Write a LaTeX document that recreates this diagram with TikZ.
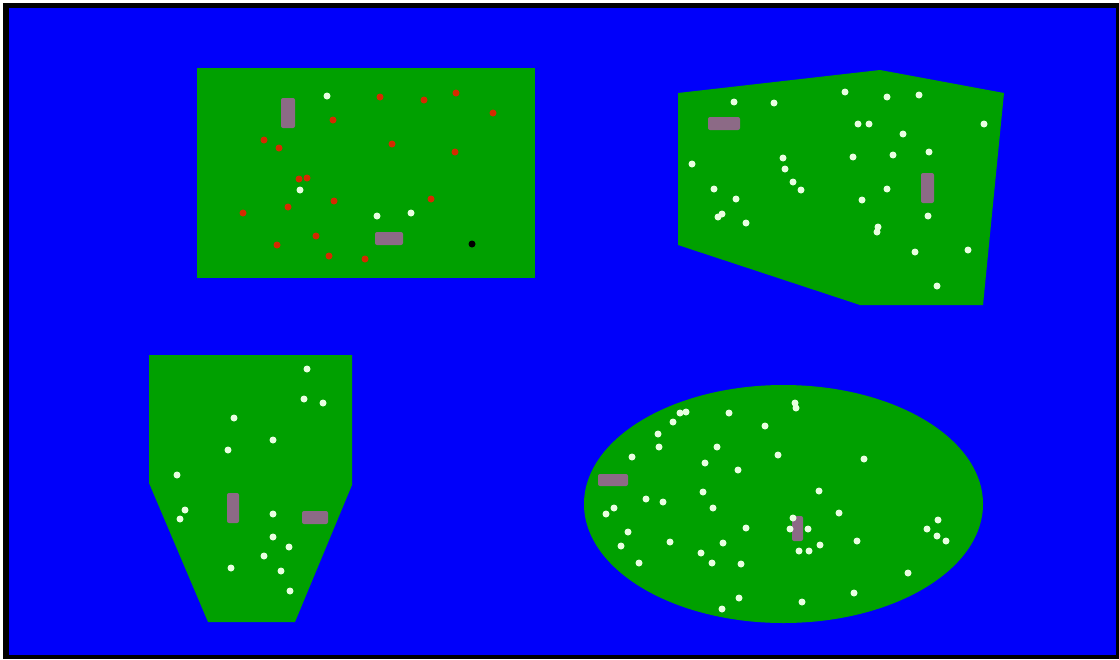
\documentclass[tikz,border=0pt]{standalone}
\usepackage{xcolor}
\usepackage{tikz}
\usetikzlibrary{
  positioning,
  calc,
  backgrounds
}
\definecolor{fieldBlue}{HTML}{0000FA}
\definecolor{fieldGreen}{HTML}{00A000}
\definecolor{padMauve}{HTML}{8C6A86}
\definecolor{dotWhite}{HTML}{E8FFE0}
\definecolor{dotRed}{HTML}{D42A00}

\tikzset{
  zone/.style={fill=fieldGreen, draw=none},
  pad/.style={fill=padMauve, rounded corners=2pt},
  wdot/.style={fill=dotWhite},
  rdot/.style={fill=dotRed},
  kdot/.style={fill=black}
}

\begin{document}
\begin{tikzpicture}[x=1pt, y=-1pt]
  \useasboundingbox (0,0) rectangle (1119,659);
  \fill[white] (0,0) rectangle (1119,659);
  \fill[black] (3,3) rectangle (1119,659);
  \fill[fieldBlue] (9,8) rectangle (1116,655);

  % rectangle field
  \fill[zone] (197,68) rectangle (535,278);
  \fill[pad] (281,98) rectangle (295,128);
  \fill[pad] (375,232) rectangle (403,245);
  \foreach \x/\y in {380/97, 424/100, 456/93, 493/113, 333/120, 264/140,
    279/148, 392/144, 455/152, 299/179, 307/178, 334/201, 288/207,
    243/213, 431/199, 316/236, 277/245, 329/256, 365/259}
    \fill[rdot] (\x,\y) circle (3.5);
  \foreach \x/\y in {327/96, 300/190, 377/216, 411/213}
    \fill[wdot] (\x,\y) circle (3.5);
  \fill[kdot] (472,244) circle (3.5);

  % pentagon-like field
  \fill[zone] (678,93) -- (880,70) -- (1004,93) -- (983,305) -- (860,305) -- (678,245) -- cycle;
  \fill[pad] (708,117) rectangle (740,130);
  \fill[pad] (921,173) rectangle (934,203);
  \foreach \x/\y in {734/102, 774/103, 845/92, 887/97, 919/95, 858/124,
    869/124, 984/124, 903/134, 692/164, 783/158, 785/169, 793/182,
    801/190, 853/157, 893/155, 929/152, 714/189, 736/199, 887/189,
    862/200, 722/214, 718/217, 746/223, 878/227, 877/232, 928/216,
    915/252, 968/250, 937/286}
    \fill[wdot] (\x,\y) circle (3.5);

  % hopper field
  \fill[zone] (149,355) -- (352,355) -- (352,485) -- (295,622) -- (208,622) -- (149,483) -- cycle;
  \fill[pad] (227,493) rectangle (239,523);
  \fill[pad] (302,511) rectangle (328,524);
  \foreach \x/\y in {307/369, 304/399, 323/403, 234/418, 273/440, 228/450,
    177/475, 185/510, 180/519, 273/514, 273/537, 289/547, 264/556,
    231/568, 281/571, 290/591}
    \fill[wdot] (\x,\y) circle (3.5);

  % oval field
  \fill[zone] (783.5,504) ellipse (199.5 and 119);
  \fill[pad] (598,474) rectangle (628,486);
  \fill[pad] (792,516) rectangle (803,541);
  \foreach \x/\y in {795/403, 796/408, 680/413, 686/412, 729/413, 673/422,
    765/426, 658/434, 659/447, 717/447, 632/457, 705/463, 778/455,
    738/470, 864/459, 703/492, 819/491, 646/499, 663/502, 713/508,
    614/508, 606/514, 839/513, 793/518, 790/529, 808/529, 746/528,
    938/520, 927/529, 937/536, 946/541, 628/532, 670/542, 723/543,
    820/545, 857/541, 621/546, 701/553, 799/551, 809/551, 712/563,
    741/564, 639/563, 908/573, 739/598, 854/593, 802/602, 722/609}
    \fill[wdot] (\x,\y) circle (3.5);
\end{tikzpicture}
\end{document}
